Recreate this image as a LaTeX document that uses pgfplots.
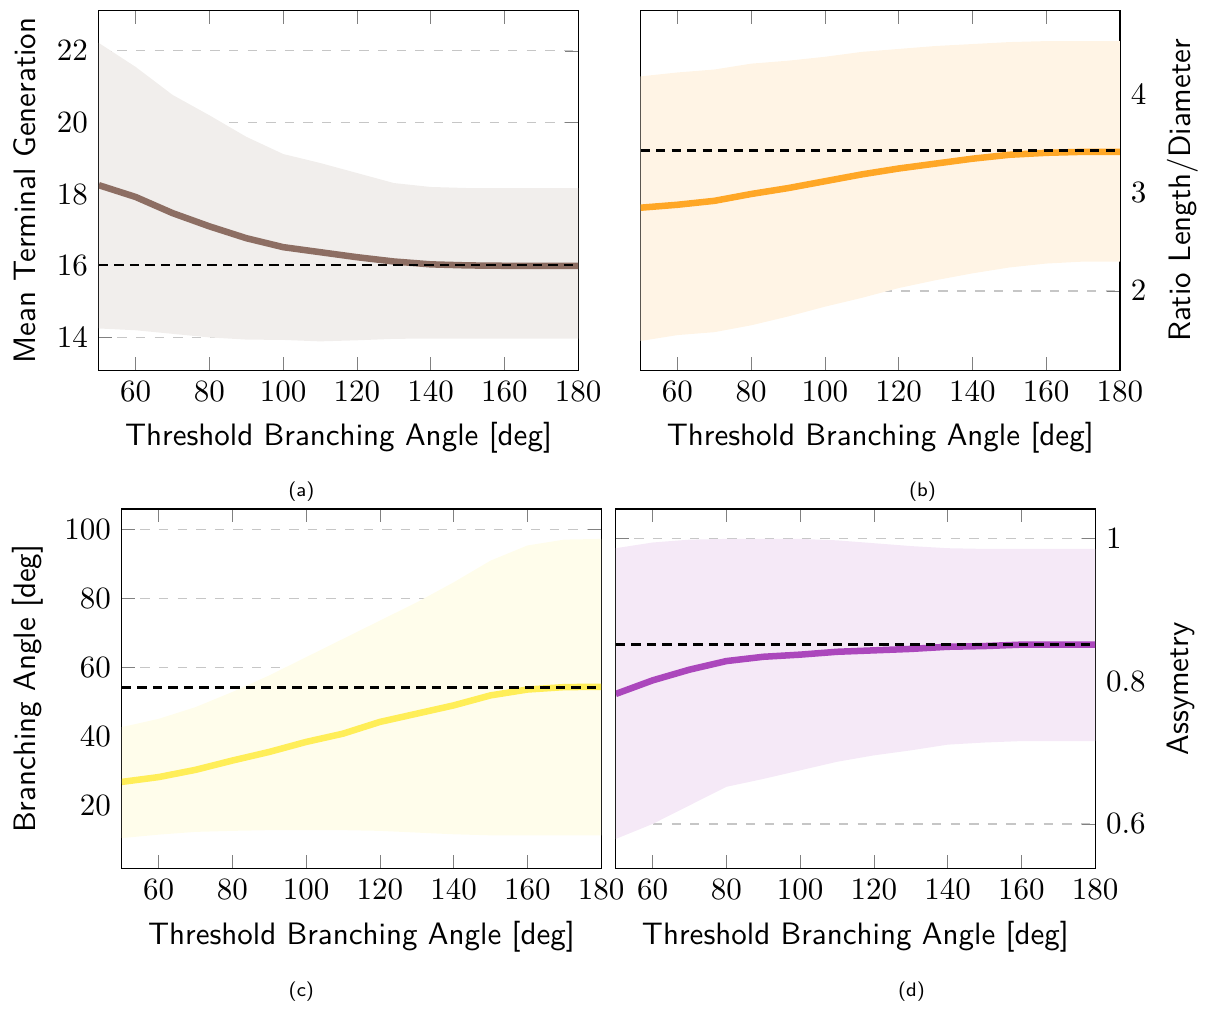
\documentclass[border=0pt]{standalone}
\usepackage{pgfplots}
\pgfplotsset{compat=1.18}
\definecolor{lnA}{HTML}{8D6E63}
\definecolor{lnB}{HTML}{FFA726}
\definecolor{lnC}{HTML}{FFEE58}
\definecolor{lnD}{HTML}{AB47BC}
\colorlet{bdA}{lnA!12!white}
\colorlet{bdB}{lnB!12!white}
\colorlet{bdC}{lnC!12!white}
\colorlet{bdD}{lnD!12!white}
\pgfplotsset{
  myax/.style={
    scale only axis, width=154.6pt, height=116pt,
    xmin=50, xmax=180, xtick={60,80,...,180},
    ymajorgrids, major grid style={gray!45, dash pattern=on 3pt off 3pt, line width=0.4pt},
    label style={font=\sffamily},
    xlabel={Threshold Branching Angle [deg]},
    no markers,
  },
  band/.style={draw=none, fill=#1, forget plot},
  mean/.style={#1, line width=2.1pt, forget plot},
  ref/.style={black, line width=0.9pt, dash pattern=on 3pt off 2pt, forget plot},
}
\begin{document}
\begin{tikzpicture}
\path (0,0) rectangle (389.3pt,-324.9pt);
% (a)
\begin{axis}[myax, at={(31.88pt,-119.46pt)}, anchor=south west,
  ymin=13.08, ymax=23.12, ytick={14,16,18,20,22},
  ylabel={Mean Terminal Generation}]
\addplot[band=bdA] coordinates {
 (50,22.22) (60,21.55) (70,20.77) (80,20.2) (90,19.6) (100,19.12) (110,18.87) (120,18.59) (130,18.31) (140,18.2) (150,18.17) (160,18.17) (170,18.17) (180,18.17)
 (180,13.97) (170,13.97) (160,13.97) (150,13.97) (140,13.97) (130,13.96) (120,13.92) (110,13.89) (100,13.93) (90,13.94) (80,14.0) (70,14.1) (60,14.2) (50,14.25)};
\addplot[mean=lnA] coordinates {
 (50,18.25) (60,17.92) (70,17.47) (80,17.1) (90,16.77) (100,16.52) (110,16.38) (120,16.24) (130,16.12) (140,16.04) (150,16.01) (160,16.0) (170,16.0) (180,16.0)};
\addplot[ref] coordinates {(50,16.02) (180,16.02)};
\end{axis}
% (b)
\begin{axis}[myax, at={(206.6pt,-119.46pt)}, anchor=south west,
  ymin=1.19, ymax=4.86, ytick={2,3,4}, yticklabel pos=right, ylabel near ticks,
  ylabel style={font=\sffamily},
  ylabel={Ratio Length/Diameter}]
\addplot[band=bdB] coordinates {
 (50,4.19) (60,4.23) (70,4.26) (80,4.32) (90,4.35) (100,4.39) (110,4.44) (120,4.47) (130,4.5) (140,4.52) (150,4.54) (160,4.55) (170,4.55) (180,4.55)
 (180,2.3) (170,2.3) (160,2.28) (150,2.24) (140,2.18) (130,2.11) (120,2.03) (110,1.93) (100,1.84) (90,1.74) (80,1.65) (70,1.58) (60,1.55) (50,1.49)};
\addplot[mean=lnB] coordinates {
 (50,2.85) (60,2.88) (70,2.92) (80,2.99) (90,3.05) (100,3.12) (110,3.19) (120,3.25) (130,3.3) (140,3.35) (150,3.39) (160,3.41) (170,3.42) (180,3.42)};
\addplot[ref] coordinates {(50,3.43) (180,3.43)};
\end{axis}
% (c)
\begin{axis}[myax, at={(39.28pt,-280.14pt)}, anchor=south west,
  ymin=1.65, ymax=106, ytick={20,40,...,100},
  ylabel={Branching Angle [deg]}]
\addplot[band=bdC] coordinates {
 (50,42.7) (60,45.1) (70,48.5) (80,52.9) (90,57.7) (100,63.0) (110,68.3) (120,73.6) (130,78.9) (140,84.7) (150,91.0) (160,95.4) (170,97.1) (180,97.3)
 (180,11.3) (170,11.3) (160,11.3) (150,11.3) (140,11.6) (130,12.1) (120,12.6) (110,12.8) (100,12.8) (90,12.8) (80,12.6) (70,12.3) (60,11.5) (50,10.5)};
\addplot[mean=lnC] coordinates {
 (50,26.8) (60,28.2) (70,30.3) (80,33.0) (90,35.5) (100,38.4) (110,40.8) (120,44.2) (130,46.6) (140,49.0) (150,51.9) (160,53.6) (170,54.3) (180,54.4)};
\addplot[ref] coordinates {(50,54.2) (180,54.2)};
\end{axis}
% (d)
\begin{axis}[myax, at={(198.6pt,-280.14pt)}, anchor=south west,
  ymin=0.5375, ymax=1.041, ytick={0.6,0.8,1}, yticklabel pos=right, ylabel near ticks,
  ylabel style={font=\sffamily},
  ylabel={Assymetry}]
\addplot[band=bdD] coordinates {
 (50,0.986) (60,0.994) (70,0.998) (80,0.999) (90,0.999) (100,0.999) (110,0.997) (120,0.993) (130,0.989) (140,0.986) (150,0.985) (160,0.985) (170,0.985) (180,0.985)
 (180,0.716) (170,0.716) (160,0.716) (150,0.714) (140,0.711) (130,0.703) (120,0.696) (110,0.687) (100,0.675) (90,0.663) (80,0.652) (70,0.626) (60,0.6) (50,0.579)};
\addplot[mean=lnD] coordinates {
 (50,0.782) (60,0.801) (70,0.816) (80,0.828) (90,0.834) (100,0.837) (110,0.841) (120,0.843) (130,0.845) (140,0.848) (150,0.849) (160,0.851) (170,0.851) (180,0.851)};
\addplot[ref] coordinates {(50,0.851) (180,0.851)};
\end{axis}
\node[font=\fontsize{6.3}{7.5}\selectfont\sffamily] at (97.2pt,-158.4pt) {(a)};
\node[font=\fontsize{6.3}{7.5}\selectfont\sffamily] at (297.5pt,-158.4pt) {(b)};
\node[font=\fontsize{6.3}{7.5}\selectfont\sffamily] at (97.2pt,-319.7pt) {(c)};
\node[font=\fontsize{6.3}{7.5}\selectfont\sffamily] at (294pt,-319.7pt) {(d)};
\end{tikzpicture}
\end{document}
